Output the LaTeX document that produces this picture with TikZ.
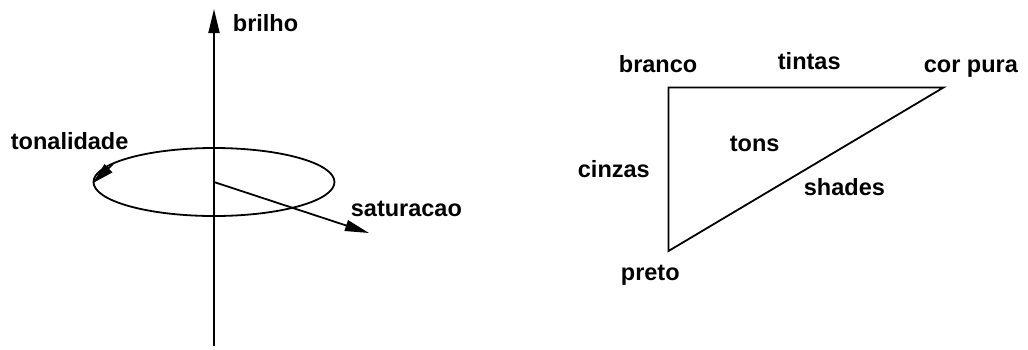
\documentclass[tikz,border=0pt]{standalone}
\usepackage{fontspec}
\setmainfont{Liberation Sans}
\usetikzlibrary{arrows.meta}
\begin{document}
\begin{tikzpicture}[x=1pt,y=-1pt,
  line width=1.8pt,
  lbl/.style={anchor=base west,inner sep=0pt,font=\fontsize{23.5}{26}\selectfont\bfseries},
  tip/.style={-{Triangle[length=24pt,width=11pt]}}]
\useasboundingbox (0,0) rectangle (1028,349);

% colour solid: axis, hue circle and saturation radius
\coordinate (axbot) at (214,346);
\coordinate (axtop) at (214,9);
\coordinate (ctr) at (214,182);
\coordinate (sat) at (369,233);
\coordinate (huefrom) at (113,164);
\coordinate (hueto) at (92.5,183.3);

\draw[tip] (axbot) -- (axtop);
\draw (ctr) ellipse [x radius=120.5, y radius=34];
\draw[tip] (ctr) -- (sat);
\draw[-{Triangle[length=22pt,width=11pt]}] (huefrom) -- (hueto);

\node[lbl] (brilho) at (232,31) {brilho};
\node[lbl] (tonalidade) at (10,149) {tonalidade};
\node[lbl] (saturacao) at (350,216) {saturacao};

% tint / tone / shade triangle
\coordinate (white) at (668.5,87.5);
\coordinate (pure) at (943.5,87.5);
\coordinate (black) at (668.5,251);
\draw[line join=miter] (black) -- (white) -- (pure) -- cycle;

\node[lbl] (branco) at (618,72.5) {branco};
\node[lbl] (tintas) at (777,69.5) {tintas};
\node[lbl] (corpura) at (923,72.5) {cor pura};
\node[lbl] (tons) at (729,151.5) {tons};
\node[lbl] (cinzas) at (577,177.5) {cinzas};
\node[lbl] (shades) at (803,195.5) {shades};
\node[lbl] (preto) at (620,280.5) {preto};
\end{tikzpicture}
\end{document}
